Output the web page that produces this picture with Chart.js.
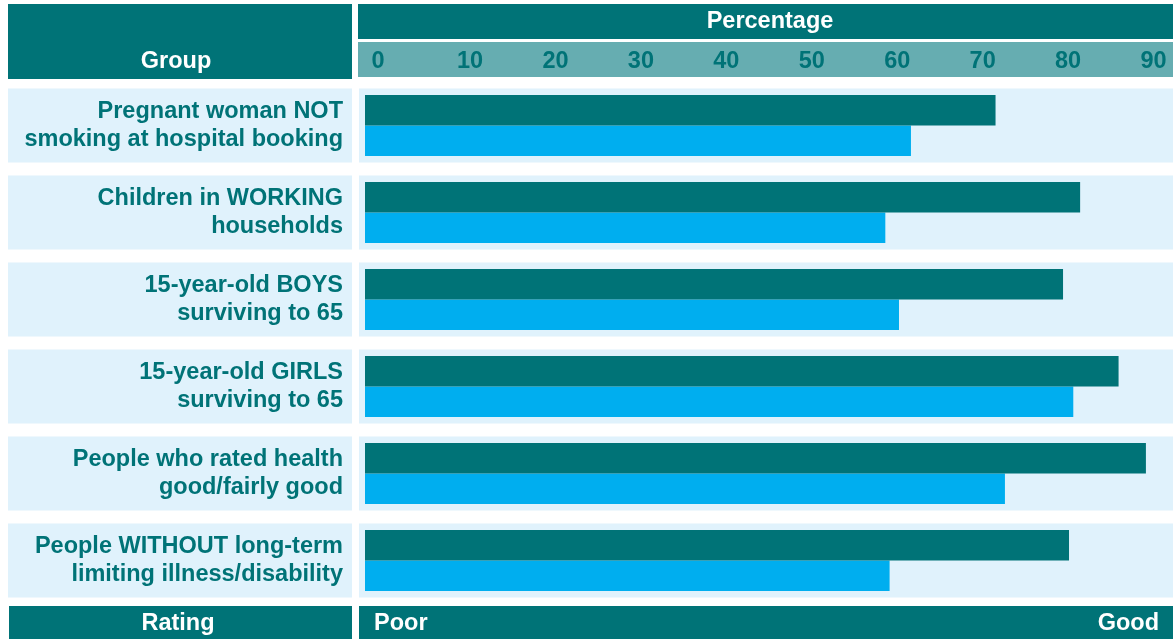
<!DOCTYPE html>
<html>
<head>
<meta charset="utf-8">
<script src="https://cdn.jsdelivr.net/npm/chart.js"></script>
<style>
  html, body { margin: 0; padding: 0; background: #fff; }
  #wrap { width: 1173px; height: 639px; }
</style>
</head>
<body>
<div id="wrap"><canvas id="chartCanvas" width="1173" height="639"></canvas></div>
<script>
// data
const groups = [
  ['Pregnant woman NOT', 'smoking at hospital booking'],
  ['Children in WORKING', 'households'],
  ['15-year-old BOYS', 'surviving to 65'],
  ['15-year-old GIRLS', 'surviving to 65'],
  ['People who rated health', 'good/fairly good'],
  ['People WITHOUT long-term', 'limiting illness/disability']
];
const darkValues = [73.8, 83.7, 81.7, 88.2, 91.4, 82.4];
const lightValues = [63.9, 60.9, 62.5, 82.9, 74.9, 61.4];
const tickValues = [0, 10, 20, 30, 40, 50, 60, 70, 80, 90];

const TEAL = '#007377';
const CYAN = '#00AEEF';
const PANEL = '#E0F2FC';
const HEAD_LIGHT = '#66ADB1';
const FONT = "'Liberation Sans', Arial, sans-serif";

// boxes behind everything (scales are drawn after beforeDraw)
const frame = {
  id: 'frame',
  beforeDraw(chart) {
    const ctx = chart.ctx;
    const y = chart.scales.y;
    const area = chart.chartArea;
    ctx.save();
    // header
    ctx.fillStyle = TEAL;
    ctx.fillRect(8, 4, 344, 75);
    ctx.fillRect(358, 4, chart.width - 358, 35);
    ctx.fillStyle = HEAD_LIGHT;
    ctx.fillRect(358, 42, chart.width - 358, 35);
    // row panels
    ctx.fillStyle = PANEL;
    groups.forEach((g, i) => {
      const c = y.getPixelForValue(i);
      ctx.fillRect(8, c - 37, 344, 74);
      ctx.fillRect(359, c - 37, chart.width - 359, 74);
    });
    // footer
    ctx.fillStyle = TEAL;
    ctx.fillRect(9, area.bottom + 2, 343, chart.height - area.bottom - 2);
    ctx.fillRect(359, area.bottom + 2, chart.width - 359, chart.height - area.bottom - 2);
    ctx.restore();
  },
  afterDraw(chart) {
    const ctx = chart.ctx;
    ctx.save();
    ctx.fillStyle = '#fff';
    ctx.font = 'bold 23.5px ' + FONT;
    ctx.textBaseline = 'alphabetic';
    ctx.textAlign = 'center';
    ctx.fillText('Percentage', 770, 28);
    ctx.fillText('Group', 176, 68);
    ctx.fillText('Rating', 178, 630);
    ctx.textAlign = 'left';
    ctx.fillText('Poor', 374, 630);
    ctx.textAlign = 'right';
    ctx.fillText('Good', 1159, 630);
    ctx.restore();
  }
};

new Chart(document.getElementById('chartCanvas'), {
  type: 'bar',
  data: {
    labels: groups,
    datasets: [
      { label: 'Series 1', data: darkValues, backgroundColor: TEAL, borderWidth: 0 },
      { label: 'Series 2', data: lightValues, backgroundColor: CYAN, borderWidth: 0 }
    ]
  },
  options: {
    indexAxis: 'y',
    responsive: false,
    animation: false,
    layout: { padding: { top: 0, right: 0, bottom: 35, left: 0 } },
    datasets: { bar: { categoryPercentage: 0.70, barPercentage: 1.0 } },
    plugins: { legend: { display: false }, tooltip: { enabled: false } },
    scales: {
      x: {
        position: 'top',
        min: 0,
        max: 94.57,
        border: { display: false },
        grid: { display: false, drawTicks: false },
        afterBuildTicks(scale) {
          scale.ticks = tickValues.map(v => ({ value: v }));
        },
        afterFit(scale) {
          scale.height = 82;
          scale.paddingLeft = 0;
          scale.paddingRight = 0;
        },
        ticks: {
          align: 'start',
          padding: 6,
          maxRotation: 0,
          autoSkip: false,
          color: TEAL,
          font: { family: FONT, size: 23.5, weight: 'bold' },
          callback: v => ' ' + v
        }
      },
      y: {
        border: { display: false },
        grid: { display: false, drawTicks: false },
        afterFit(scale) {
          scale.width = 365;
          scale.paddingTop = 0;
          scale.paddingBottom = 0;
        },
        ticks: {
          padding: 22,
          autoSkip: false,
          color: TEAL,
          font: { family: FONT, size: 23.5, weight: 'bold', lineHeight: 1.2 }
        }
      }
    }
  },
  plugins: [frame]
});
</script>
</body>
</html>
